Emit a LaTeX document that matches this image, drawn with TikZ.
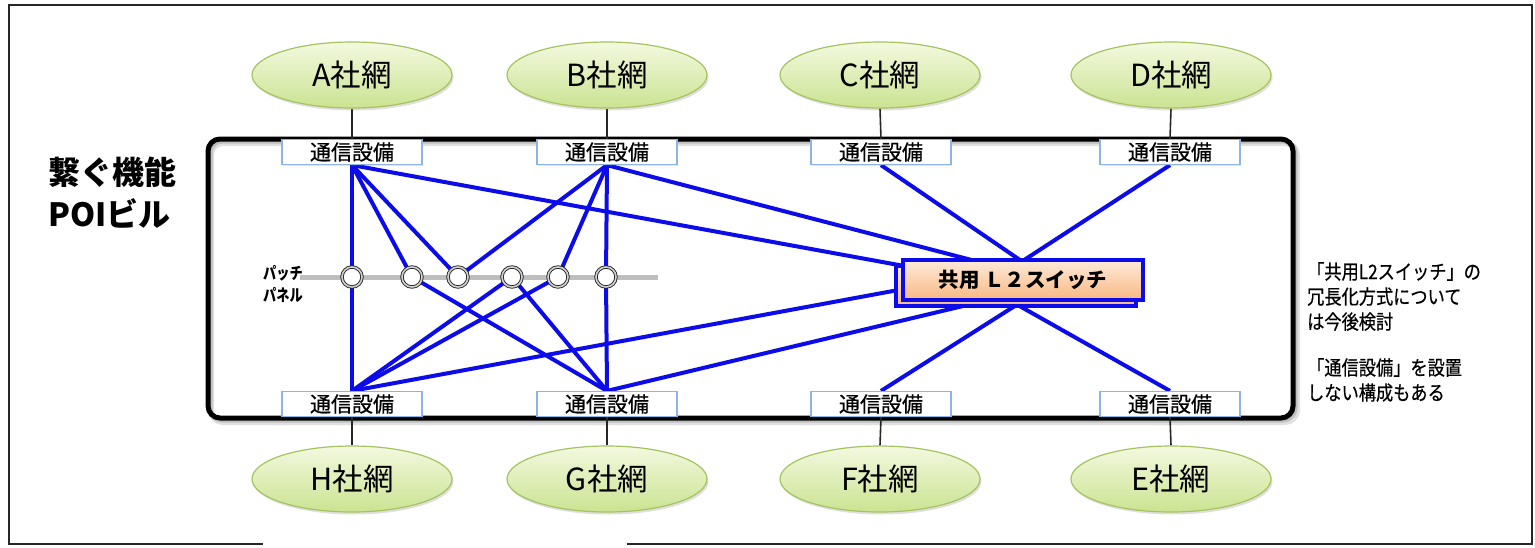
\documentclass[tikz,border=0pt]{standalone}
\usepackage{fontspec}
\setmainfont{Noto Sans CJK JP}
\newfontfamily\jpc[FakeStretch=0.8]{Noto Sans CJK JP}
\newfontfamily\jpn[FakeStretch=0.86,FakeBold=0.5]{Noto Sans CJK JP}
\newfontfamily\jpd[FakeBold=0.6]{Noto Sans CJK JP}
\usetikzlibrary{shapes.geometric,shadows,calc}
\pgfdeclarelayer{bg}
\pgfsetlayers{bg,main}
\definecolor{netborder}{RGB}{165,195,95}
\definecolor{nettop}{RGB}{243,249,224}
\definecolor{netbot}{RGB}{203,227,145}
\definecolor{devborder}{RGB}{141,180,226}
\definecolor{linkblue}{RGB}{12,12,235}
\definecolor{swtop}{RGB}{253,234,218}
\definecolor{swbot}{RGB}{249,184,130}
\definecolor{panelgray}{RGB}{190,190,190}
\tikzset{
  net/.style={ellipse, minimum width=200, minimum height=66, inner sep=0,
    draw=netborder, line width=1.2, top color=nettop, bottom color=netbot,
    drop shadow={opacity=0.25, shadow xshift=1.5pt, shadow yshift=-2.5pt},
    font=\fontsize{30.5}{32}\selectfont},
  dev/.style={rectangle, draw=devborder, line width=1.2, fill=white,
    minimum width=140, minimum height=25, inner sep=0,
    drop shadow={opacity=0.2, shadow xshift=1pt, shadow yshift=-1.5pt},
    font=\jpd\fontsize{21}{22}\selectfont},
  port/.style={circle, minimum size=20, inner sep=0, fill=white,
    draw=gray!30!black, line width=0.9, double=gray!35, double distance=1.6pt},
  link/.style={line width=4, draw=linkblue},
  conn/.style={line width=1.6, draw=black!85},
  swbox/.style={rectangle, minimum width=240, minimum height=40, inner sep=0,
    draw=linkblue, line width=3.2, top color=swtop, bottom color=swbot},
  note/.style={anchor=north west, inner sep=0, align=left,
    font=\jpn\fontsize{20}{25}\selectfont}
}
\begin{document}
\begin{tikzpicture}[x=1pt,y=-1pt]
\useasboundingbox (0,0) rectangle (1535,547);
% nets
\node[net] (A) at (352,75) {A社網};
\node[net] (B) at (607,75) {B社網};
\node[net] (C) at (880,75) {C社網};
\node[net] (D) at (1171,75) {D社網};
\node[net] (H) at (352,479) {H社網};
\node[net] (G) at (607,479) {G社網};
\node[net] (F) at (880,479) {F社網};
\node[net] (E) at (1171,479) {E社網};
% devices
\node[dev] (Ad) at (352,152) {通信設備};
\node[dev] (Bd) at (607,152) {通信設備};
\node[dev] (Cd) at (881,152) {通信設備};
\node[dev] (Dd) at (1170,152) {通信設備};
\node[dev] (Hd) at (352,404) {通信設備};
\node[dev] (Gd) at (607,404) {通信設備};
\node[dev] (Fd) at (881,404) {通信設備};
\node[dev] (Ed) at (1170,404) {通信設備};
% patch panel ports
\node[port] (p1) at (352,277) {};
\node[port] (p2) at (412,277) {};
\node[port] (p3) at (458,277) {};
\node[port] (p4) at (512,277) {};
\node[port] (p5) at (558,277) {};
\node[port] (p6) at (606,277) {};
\coordinate (pl) at (300,277);
\coordinate (pr) at (658,277);
% shared switch
\node[swbox, drop shadow={opacity=0.25, shadow xshift=2pt, shadow yshift=-2pt}] (swback) at (1016,286) {};
\node[swbox, font=\bfseries\fontsize{20.5}{22}\selectfont] (sw) at (1023,280) {共用 Ｌ２スイッチ};
% texts
\node[anchor=west, inner sep=0, align=left, font=\bfseries\fontsize{32}{42}\selectfont] (title) at (48,193) {繋ぐ機能\\POIビル};
\node[anchor=west, inner sep=0, align=left, font=\jpc\bfseries\fontsize{16.5}{22}\selectfont] (plabel) at (263,284) {パッチ\\パネル};
\node[note] (n1) at (1307,262) {「共用L2スイッチ」の\\冗長化方式について\\は今後検討};
\node[note] (n2) at (1307,358) {「通信設備」を設置\\しない構成もある};
% switch attachment points
\coordinate (sA) at ($(sw.north west)+(5,8)$);
\coordinate (sB) at ($(sw.north)+(-46,3)$);
\coordinate (sCD) at ($(sw.north)+(-1,3)$);
\coordinate (sH) at ($(swback.west)+(4,4)$);
\coordinate (sG) at ($(swback.south)+(-47,-3)$);
\coordinate (sFE) at ($(swback.south)+(1,-3)$);
\begin{pgfonlayer}{bg}
  % outer frame
  \draw[line width=2.4, black!85] (263,544) -- (9,544) -- (9,5) -- (1532,5) -- (1532,544) -- (627,544);
  % main building box with soft shadow
  \draw[line width=6, rounded corners=12, black, opacity=0.12] (211,143) rectangle (1297,422);
  \draw[line width=5, rounded corners=12, black, opacity=0.15] (210,141) rectangle (1295,420);
  \draw[line width=5, rounded corners=12, black] (208,139) rectangle (1293,418);
  % net to device connectors
  \foreach \n in {A,B,C,D}{\draw[conn] (\n.south) -- (\n d.north);}
  \foreach \n in {H,G,F,E}{\draw[conn] (\n.north) -- (\n d.south);}
  % patch panel bar
  \draw[line width=5, panelgray] (pl) -- (pr);
  % blue links
  \draw[link] (Ad.south) -- (p1.center) -- (Hd.north);
  \draw[link] (Ad.south) -- (p2.center) -- (Gd.north);
  \draw[link] (Ad.south) -- (p3.center) -- (Bd.south);
  \draw[link] (Bd.south) -- (p5.center) -- (Hd.north);
  \draw[link] (Bd.south) -- (p6.center) -- (Gd.north);
  \draw[link] (Hd.north) -- (p4.center) -- (Gd.north);
  \draw[link] (Ad.south) -- (sA);
  \draw[link] (Bd.south) -- (sB);
  \draw[link] (Cd.south) -- (sCD);
  \draw[link] (Dd.south) -- (sCD);
  \draw[link] (Hd.north) -- (sH);
  \draw[link] (Gd.north) -- (sG);
  \draw[link] (Fd.north) -- (sFE);
  \draw[link] (Ed.north) -- (sFE);
\end{pgfonlayer}
\end{tikzpicture}
\end{document}
